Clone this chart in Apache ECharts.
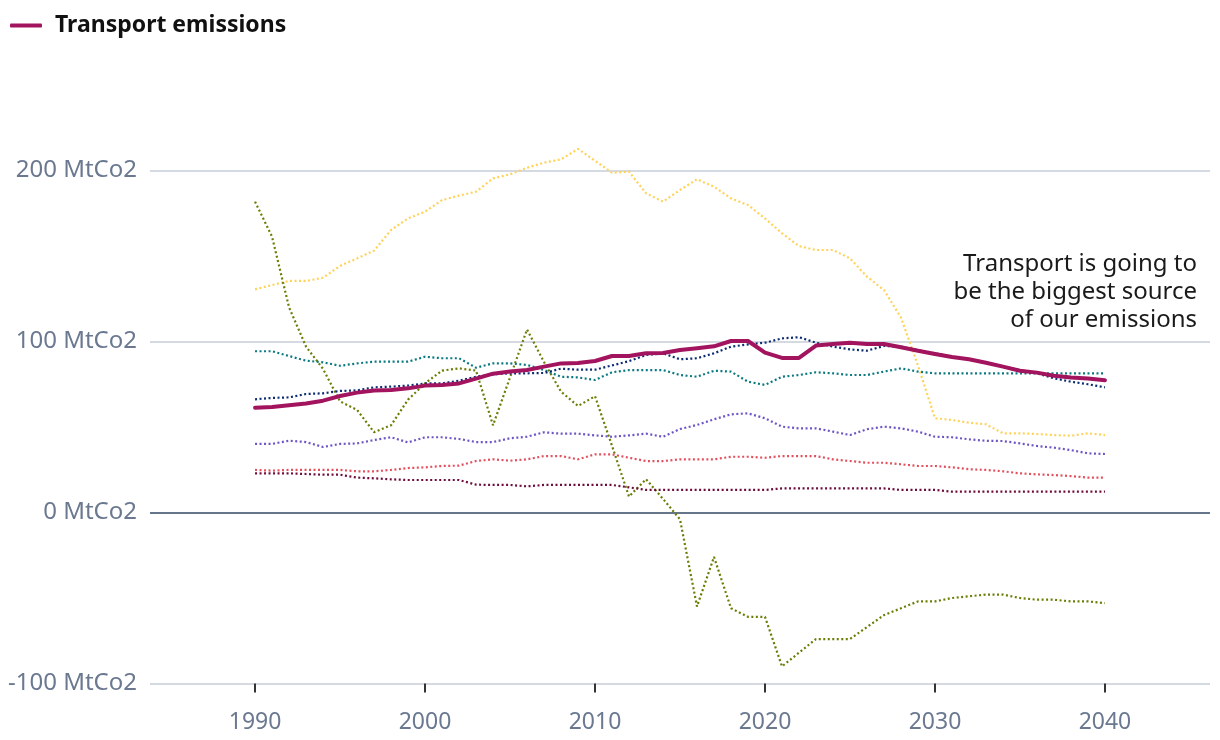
<!DOCTYPE html>
<html>
<head>
<meta charset="utf-8">
<script src="https://cdn.jsdelivr.net/npm/echarts@6/dist/echarts.min.js"></script>
<style>
html,body{margin:0;padding:0;background:#fff;}
#chart{width:1220px;height:740px;}
</style>
</head>
<body>
<div id="chart"></div>
<script>
const years = [];
for (let y = 1990; y <= 2040; y++) years.push(y);
const xTicks = [1990, 2000, 2010, 2020, 2030, 2040];

const transport = [61.3, 61.7, 62.7, 63.8, 65.4, 68.1, 70.1, 71.4, 71.6, 72.6, 74.2, 74.6, 75.5, 78.3, 81.2, 82.4, 83.3, 85.3, 87.2, 87.4, 88.6,
  91.5, 91.5, 93.1, 93.3, 95.0, 96.0, 97.2, 100.3, 100.3, 93.5, 90.4, 90.4, 97.6, 98.5, 99.3, 98.5, 98.5, 96.6, 94.6, 92.7,
  90.9, 89.6, 87.6, 85.3, 82.9, 81.8, 80.0, 79.0, 78.3, 77.3];
const navy = [66.2, 67.0, 67.3, 69.3, 69.7, 71.1, 71.4, 73.2, 73.6, 74.2, 75.5, 75.5, 77.1, 79.4, 80.8, 81.4, 81.4, 81.6, 84.1, 83.5, 83.5,
  86.0, 88.5, 92.1, 93.1, 89.6, 90.2, 93.1, 97.0, 98.3, 99.3, 101.8, 102.5, 99.3, 97.0, 95.4, 94.6, 97.4, 97.0, 95.0, 93.1,
  91.1, 89.6, 87.6, 85.7, 83.3, 81.4, 78.5, 76.5, 75.0, 73.2];
const teal = [94.3, 94.3, 91.5, 88.8, 87.8, 85.8, 87.2, 88.2, 88.2, 88.2, 91.1, 90.2, 90.2, 84.7, 87.2, 87.2, 86.3, 83.3, 79.4, 79.0, 77.5,
  82.0, 83.3, 83.3, 83.3, 80.4, 79.4, 82.9, 82.4, 76.5, 74.6, 79.4, 80.4, 82.0, 81.4, 80.4, 80.4, 82.4, 84.3, 82.4, 81.4,
  81.4, 81.4, 81.4, 81.4, 81.4, 81.4, 81.4, 81.4, 81.4, 81.4];
const purple = [40.1, 40.1, 42.0, 41.2, 38.3, 40.1, 40.4, 42.4, 44.0, 41.0, 44.0, 44.0, 43.0, 41.2, 41.2, 43.4, 44.3, 46.9, 46.1, 46.1, 45.1,
  44.3, 45.1, 46.1, 44.3, 48.8, 51.2, 54.5, 57.4, 58.0, 55.1, 50.2, 49.2, 49.2, 47.3, 45.3, 48.7, 50.2, 49.2, 47.3, 44.3,
  44.0, 42.8, 41.9, 41.8, 40.4, 38.9, 37.9, 36.5, 34.6, 34.2];
const red = [24.9, 24.5, 24.9, 24.9, 24.9, 24.9, 24.1, 24.1, 24.9, 26.0, 26.4, 27.2, 27.4, 30.1, 31.1, 30.3, 31.1, 33.0, 33.0, 31.1, 34.0,
  34.0, 32.0, 30.1, 30.1, 31.1, 31.1, 31.1, 32.6, 32.6, 32.0, 33.0, 33.0, 33.0, 31.1, 30.1, 29.1, 29.1, 28.2, 27.2, 27.2,
  26.4, 25.3, 24.9, 24.1, 22.9, 22.3, 21.9, 21.3, 20.4, 20.4];
const maroon = [22.9, 22.9, 22.9, 22.5, 22.1, 22.1, 20.4, 20.0, 19.4, 19.0, 19.0, 19.0, 19.0, 16.3, 16.1, 16.1, 15.3, 16.1, 16.1, 16.1, 16.1,
  16.1, 14.7, 13.2, 13.2, 13.2, 13.2, 13.2, 13.2, 13.2, 13.2, 14.1, 14.1, 14.1, 14.1, 14.1, 14.1, 14.1, 13.2, 13.2, 13.2,
  12.2, 12.2, 12.2, 12.2, 12.2, 12.2, 12.2, 12.2, 12.2, 12.2];
const yellow = [130.5, 133.0, 135.4, 135.4, 137.3, 144.2, 148.6, 153.1, 165.2, 172.0, 175.9, 182.7, 185.3, 187.6, 195.4, 197.8, 201.6, 204.6, 206.5, 212.6, 205.7,
  198.7, 199.3, 186.7, 181.8, 188.6, 194.9, 190.5, 183.7, 179.8, 172.0, 163.3, 155.8, 153.5, 153.5, 148.6, 137.9, 130.1, 114.0, 86.0, 55.1,
  54.1, 52.5, 51.6, 46.3, 46.3, 45.9, 45.3, 44.9, 46.3, 45.3];
const olive = [181.8, 161.3, 120.0, 97.0, 84.0, 65.0, 60.0, 47.0, 51.0, 66.0, 75.5, 83.0, 84.3, 83.0, 51.0, 79.0, 107.0, 88.0, 70.7, 62.3, 68.0,
  39.0, 9.3, 19.5, 8.0, -4.0, -55.0, -26.0, -56.0, -61.0, -61.0, -90.0, -82.0, -74.0, -74.0, -74.0, -67.0, -60.0, -56.0, -52.0, -52.0,
  -50.0, -49.0, -48.0, -48.0, -50.0, -51.0, -51.0, -52.0, -52.0, -53.0];

const annotation = ['Transport is going to', 'be the biggest source', 'of our emissions'];

function pairs(arr) { return years.map((y, i) => [y, arr[i]]); }

const dotted = [
  { name: 'Series yellow', data: yellow, color: '#ffd257' },
  { name: 'Series olive', data: olive, color: '#6b7d05' },
  { name: 'Series teal', data: teal, color: '#0b7a80' },
  { name: 'Series purple', data: purple, color: '#6e55c6' },
  { name: 'Series red', data: red, color: '#e2505e' },
  { name: 'Series maroon', data: maroon, color: '#6e0c3b' },
  { name: 'Series navy', data: navy, color: '#0b2b72' }
];

const series = dotted.map((s) => ({
  name: s.name,
  type: 'line',
  data: pairs(s.data),
  showSymbol: false,
  symbol: 'none',
  clip: false,
  silent: true,
  z: 3,
  lineStyle: { color: s.color, width: 2.2, type: [2, 2.5] },
  itemStyle: { color: s.color }
}));
series.push({
  name: 'Transport emissions',
  type: 'line',
  data: pairs(transport),
  showSymbol: false,
  symbol: 'none',
  clip: false,
  z: 5,
  lineStyle: { color: '#a3145f', width: 4, cap: 'round', join: 'round' },
  itemStyle: { color: '#a3145f' },
  markLine: {
    silent: true,
    symbol: 'none',
    z: 2,
    label: { show: false },
    lineStyle: { color: '#66758a', width: 2, type: 'solid' },
    emphasis: { disabled: true },
    data: [{ yAxis: 0 }]
  }
});

const chart = echarts.init(document.getElementById('chart'), null, { renderer: 'canvas' });
chart.setOption({
  animation: false,
  backgroundColor: '#ffffff',
  textStyle: { fontFamily: 'Noto Sans' },
  legend: {
    left: 10,
    top: 14,
    padding: 0,
    selectedMode: false,
    itemWidth: 32,
    itemHeight: 4,
    data: [{ name: 'Transport emissions', icon: 'roundRect' }],
    textStyle: { fontSize: 23, fontWeight: 'bold', color: '#111111', fontFamily: 'Noto Sans', padding: [0, 0, 0, 8] }
  },
  grid: { left: 150, right: 10, top: 170.5, bottom: 56.5, containLabel: false },
  xAxis: {
    type: 'value',
    min: 1983.82,
    max: 2046.18,
    splitLine: { show: false },
    axisLine: { show: false, onZero: false },
    axisTick: { show: true, customValues: xTicks, length: 9, lineStyle: { color: '#333333', width: 2 } },
    axisLabel: { customValues: xTicks, margin: 27, fontSize: 23, color: '#6a7890', fontFamily: 'Noto Sans', formatter: (v) => String(v) }
  },
  yAxis: {
    type: 'value',
    min: -100,
    max: 200,
    interval: 100,
    axisLine: { show: false },
    axisTick: { show: false },
    splitLine: { show: true, lineStyle: { color: '#d5dae2', width: 2 } },
    axisLabel: { formatter: '{value} MtCo2', margin: 13, fontSize: 24, color: '#6a7890', fontFamily: 'Noto Sans' }
  },
  graphic: [{
    type: 'text',
    x: 1197,
    y: 250,
    z: 10,
    style: {
      text: annotation.join('\n'),
      font: '24px "Noto Sans"',
      fill: '#1a1a1a',
      align: 'right',
      verticalAlign: 'top',
      lineHeight: 28
    }
  }],
  series: series
});
</script>
</body>
</html>
